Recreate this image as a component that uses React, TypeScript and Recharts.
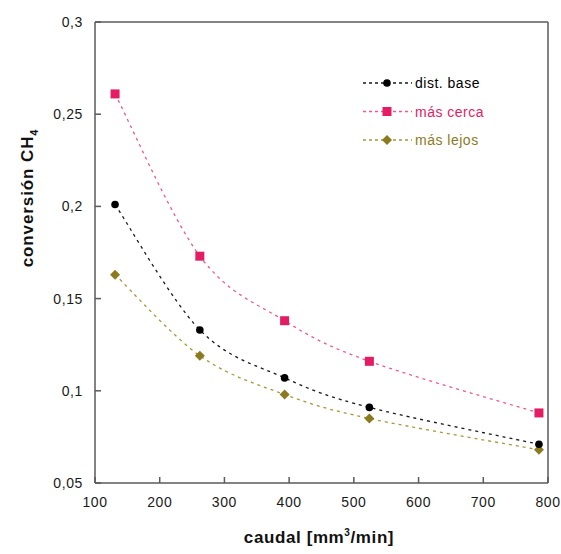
import React from "react";
import {
  LineChart,
  Line,
  XAxis,
  YAxis,
  ReferenceLine,
} from "recharts";

// Flow rates (mm³/min)
const caudal = [131, 262, 393, 524, 786];

// CH4 conversion for each electrode distance
const distBase = [0.201, 0.133, 0.107, 0.091, 0.071];
const masCerca = [0.261, 0.173, 0.138, 0.116, 0.088];
const masLejos = [0.163, 0.119, 0.098, 0.085, 0.068];

const xTicks = [100, 200, 300, 400, 500, 600, 700, 800];
const yTicks = [0.05, 0.1, 0.15, 0.2, 0.25, 0.3];

const seriesNames = ["dist. base", "más cerca", "más lejos"];

const COLORS = {
  base: { mark: "#000000", line: "#1a1a1a" },
  cerca: { mark: "#E31C63", line: "#EE5A8E" },
  lejos: { mark: "#8C7A1E", line: "#A8963A" },
};

const toPoints = (ys: number[]) => caudal.map((x, i) => ({ x, y: ys[i] }));

const FONT = "'Liberation Sans', Arial, sans-serif";
const AXIS = "#5a5a5a";

// Spreadsheet-style smoothed line: Catmull-Rom segments as cubic Béziers
const smoothCurve = (context: any) => {
  let pts: [number, number][] = [];
  return {
    areaStart() {},
    areaEnd() {},
    lineStart() {
      pts = [];
    },
    point(x: number, y: number) {
      pts.push([+x, +y]);
    },
    lineEnd() {
      if (!pts.length) return;
      context.moveTo(pts[0][0], pts[0][1]);
      for (let i = 0; i < pts.length - 1; i++) {
        const p0 = pts[i - 1] || pts[i];
        const p1 = pts[i];
        const p2 = pts[i + 1];
        const p3 = pts[i + 2] || p2;
        context.bezierCurveTo(
          p1[0] + (p2[0] - p0[0]) / 6,
          p1[1] + (p2[1] - p0[1]) / 6,
          p2[0] - (p3[0] - p1[0]) / 6,
          p2[1] - (p3[1] - p1[1]) / 6,
          p2[0],
          p2[1]
        );
      }
    },
  };
};

const circleDot = (color: string) => (p: any) => (
  <circle key={`c-${p.index}`} cx={p.cx} cy={p.cy} r={3.8} fill={color} stroke="none" />
);
const squareDot = (color: string) => (p: any) => (
  <rect key={`s-${p.index}`} x={p.cx - 4.5} y={p.cy - 4.5} width={9} height={9} fill={color} stroke="none" />
);
const diamondDot = (color: string) => (p: any) => (
  <path
    key={`d-${p.index}`}
    d={`M${p.cx},${p.cy - 5} L${p.cx + 5},${p.cy} L${p.cx},${p.cy + 5} L${p.cx - 5},${p.cy} Z`}
    fill={color}
    stroke="none"
  />
);

// Series key drawn as a small overlay inside the plot area
const LegendBox = () => {
  const rows = [
    { name: seriesNames[0], c: COLORS.base, shape: "circle" },
    { name: seriesNames[1], c: COLORS.cerca, shape: "square" },
    { name: seriesNames[2], c: COLORS.lejos, shape: "diamond" },
  ];
  return (
    <svg width={160} height={90} style={{ overflow: "visible", display: "block" }}>
      {rows.map((r, i) => {
        const cy = 11 + i * 28.5;
        const mx = 27;
        return (
          <g key={r.name}>
            <line x1={3} x2={52} y1={cy} y2={cy} stroke={r.c.line} strokeWidth={1.3} strokeDasharray="3 3" />
            {r.shape === "circle" && <circle cx={mx} cy={cy} r={3.8} fill={r.c.mark} />}
            {r.shape === "square" && <rect x={mx - 4.5} y={cy - 4.5} width={9} height={9} fill={r.c.mark} />}
            {r.shape === "diamond" && (
              <path d={`M${mx},${cy - 5} L${mx + 5},${cy} L${mx},${cy + 5} L${mx - 5},${cy} Z`} fill={r.c.mark} />
            )}
            <text x={55} y={cy + 5} fontFamily={FONT} fontSize={14} letterSpacing={0.5} fill={r.c.mark}>
              {r.name}
            </text>
          </g>
        );
      })}
    </svg>
  );
};

const fmt = (v: number) => String(v).replace(".", ",");

export default function App() {
  return (
    <div style={{ position: "absolute", left: 0, top: 0, width: 561, height: 554, background: "#fff" }}>
      <LineChart width={561} height={554} margin={{ top: 22, right: 13, left: 0, bottom: 0 }}>
        <XAxis
          type="number"
          dataKey="x"
          domain={[100, 800]}
          ticks={xTicks}
          allowDuplicatedCategory={false}
          height={71}
          tickSize={-6}
          tickMargin={20}
          stroke={AXIS}
          strokeWidth={1.5}
          tick={{ fill: "#1a1a1a", fontSize: 14, fontFamily: FONT, letterSpacing: 0.6 }}
          label={{
            content: () => (
              <text x={319} y={543} textAnchor="middle" fontFamily={FONT} fontSize={17} fontWeight="bold" letterSpacing={0.6} fill="#111">
                caudal [mm
                <tspan dy={-7} fontSize={10}>3</tspan>
                <tspan dy={7}>/min]</tspan>
              </text>
            ),
          }}
        />
        <YAxis
          type="number"
          dataKey="y"
          domain={[0.05, 0.3]}
          ticks={yTicks}
          width={95}
          tickSize={-6}
          tickMargin={18}
          tickFormatter={fmt}
          stroke={AXIS}
          strokeWidth={1.5}
          tick={{ fill: "#1a1a1a", fontSize: 14, fontFamily: FONT, letterSpacing: 0.6 }}
          label={{
            content: () => (
              <text
                x={33}
                y={198}
                transform="rotate(-90, 33, 198)"
                textAnchor="middle"
                fontFamily={FONT}
                fontSize={17}
                fontWeight="bold"
                letterSpacing={0.9}
                fill="#111"
              >
                conversión CH
                <tspan dy={5} fontSize={11}>4</tspan>
              </text>
            ),
          }}
        />
        <ReferenceLine y={0.3} stroke={AXIS} strokeWidth={1.5} />
        <ReferenceLine x={800} stroke={AXIS} strokeWidth={1.5} />
        <Line
          data={toPoints(masLejos)}
          dataKey="y"
          name={seriesNames[2]}
          type={smoothCurve as any}
          stroke={COLORS.lejos.line}
          strokeWidth={1.3}
          strokeDasharray="3 4"
          dot={diamondDot(COLORS.lejos.mark)}
          isAnimationActive={false}
        />
        <Line
          data={toPoints(distBase)}
          dataKey="y"
          name={seriesNames[0]}
          type={smoothCurve as any}
          stroke={COLORS.base.line}
          strokeWidth={1.3}
          strokeDasharray="3 4"
          dot={circleDot(COLORS.base.mark)}
          isAnimationActive={false}
        />
        <Line
          data={toPoints(masCerca)}
          dataKey="y"
          name={seriesNames[1]}
          type={smoothCurve as any}
          stroke={COLORS.cerca.line}
          strokeWidth={1.3}
          strokeDasharray="3 4"
          dot={squareDot(COLORS.cerca.mark)}
          isAnimationActive={false}
        />
      </LineChart>
      <div style={{ position: "absolute", left: 360, top: 72 }}>
        <LegendBox />
      </div>
    </div>
  );
}
